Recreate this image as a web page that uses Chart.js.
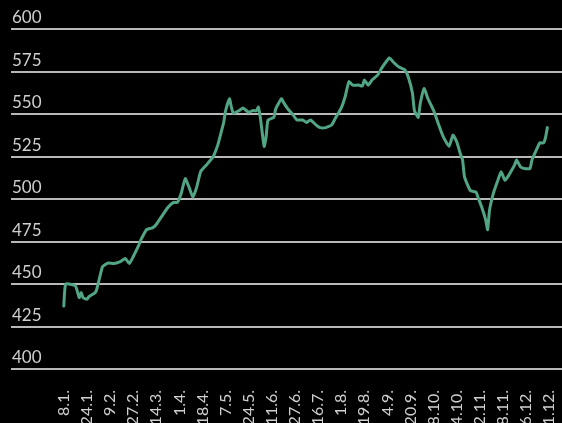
<!DOCTYPE html>
<html>
<head>
<meta charset="utf-8">
<script src="https://cdn.jsdelivr.net/npm/chart.js@4/dist/chart.umd.min.js"></script>
<style>
  html, body { margin: 0; padding: 0; background: #000; overflow: hidden; }
  #wrap { width: 562px; height: 439px; }
</style>
</head>
<body>
<div id="wrap"><canvas id="price"></canvas></div>
<script>
// date labels, one every 12 trading days
const dateLabels = ['8.1.', '24.1.', '9.2.', '27.2.', '14.3.', '1.4.', '18.4.', '7.5.', '24.5.', '11.6.', '27.6.',
  '16.7.', '1.8.', '19.8.', '4.9.', '20.9.', '8.10.', '24.10.', '12.11.', '28.11.', '16.12.', '31.12.'];
const daysPerLabel = 12;

// trading day index and closing price
const tradingDays = [0, 1, 6, 8, 9, 10, 12, 13, 16, 17, 20, 21, 23, 26, 29, 32, 34, 36, 39, 40, 43, 46, 48,
  54, 57, 59, 61, 63, 65, 67, 69, 71, 74, 77, 78, 80, 82, 83, 84, 86, 87, 88, 91, 93, 96, 98,
  100, 101, 102, 104, 105, 106, 109, 110, 113, 114, 116, 119, 121, 124, 126, 128, 131, 133, 136, 139,
  141, 144, 146, 148, 150, 153, 155, 156, 158, 160, 163, 165, 169, 171, 174, 177, 179, 181, 182, 184,
  185, 187, 189, 192, 194, 197, 200, 202, 204, 206, 207, 208, 211, 214, 215, 217, 219, 220, 221, 223,
  225, 227, 229, 231, 233, 234, 235, 237, 239, 242, 243, 246, 247, 249, 250, 251];
const prices = [437, 450, 449, 442, 445, 442, 441, 442.5, 444.7, 446.5, 460, 461, 462.4, 462, 463, 465, 462, 466, 473, 476, 482, 483, 485,
  495, 498, 498, 503.5, 512, 507, 501, 507, 516, 520, 524, 526, 532, 540.6, 545, 552, 559, 554, 550.5, 552, 553.5, 551, 552,
  552, 554, 548, 531, 536.5, 546.5, 548, 553, 559, 557, 553.5, 549.5, 546.5, 546.5, 545, 546.5, 543.5, 542, 542, 543.5,
  547.6, 553.5, 560, 569, 567, 567, 566.5, 570, 567, 570, 573, 577, 583, 580.6, 577.6, 576, 571, 562, 552, 548,
  556, 565, 559, 552, 545.6, 536.5, 531, 537.6, 533.5, 526, 523, 513, 505, 504, 501, 495, 487.6, 482, 493.5, 503.5,
  510, 516, 511, 514, 518, 520, 523, 519, 518, 518, 523, 530.6, 533, 533, 536, 542];

const yTicks = [400, 425, 450, 475, 500, 525, 550, 575, 600];

const textColor = '#cfcfcf';
const fontFamily = 'Lato, "Open Sans", sans-serif';

new Chart(document.getElementById('price'), {
  type: 'line',
  data: {
    datasets: [{
      data: tradingDays.map((d, i) => ({ x: d, y: prices[i] })),
      borderColor: '#52a584',
      borderWidth: 3,
      pointRadius: 0,
      tension: 0.15,
      borderJoinStyle: 'round',
      borderCapStyle: 'round'
    }]
  },
  options: {
    responsive: true,
    maintainAspectRatio: false,
    animation: false,
    layout: { padding: { left: 9, right: 0, top: 29, bottom: 0 } },
    plugins: { legend: { display: false }, tooltip: { enabled: false } },
    scales: {
      x: {
        type: 'linear',
        min: -27.4,
        max: 258.6,
        grid: { display: false },
        border: { display: false },
        afterBuildTicks: axis => {
          axis.ticks = dateLabels.map((_, i) => ({ value: i * daysPerLabel }));
        },
        // fixed axis height, and let the grid run to the right edge
        afterFit: axis => {
          axis.height = 70;
          axis.paddingLeft = 0;
          axis.paddingRight = 0;
        },
        ticks: {
          autoSkip: false,
          minRotation: 90,
          maxRotation: 90,
          padding: 13,
          color: textColor,
          font: { family: fontFamily, size: 16 },
          callback: value => dateLabels[Math.round(value / daysPerLabel)]
        }
      },
      y: {
        min: 400,
        max: 600,
        afterBuildTicks: axis => {
          axis.ticks = yTicks.map(v => ({ value: v }));
        },
        grid: { color: '#b8b8b8', lineWidth: 2, drawTicks: false },
        border: { display: false },
        ticks: {
          mirror: true,
          padding: 1,
          labelOffset: -11,
          color: textColor,
          font: { family: fontFamily, size: 17 }
        }
      }
    }
  }
});
</script>
</body>
</html>
